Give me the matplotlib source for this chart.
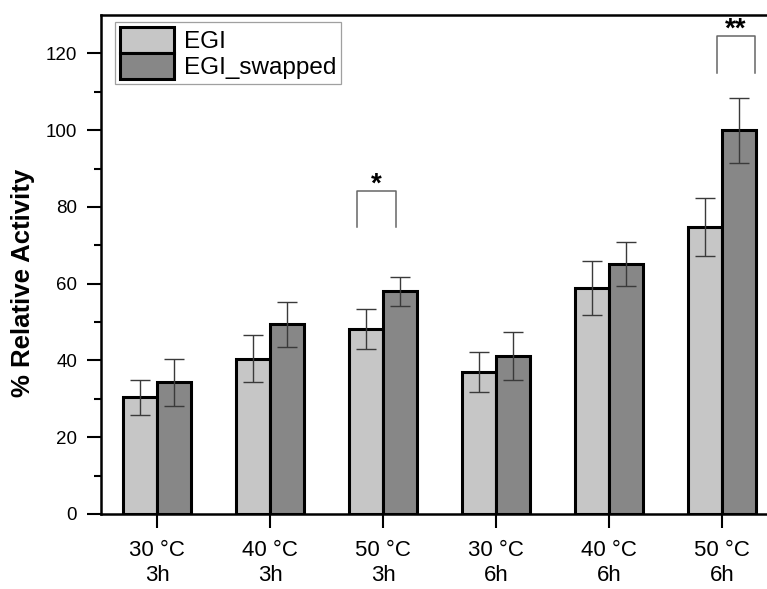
import matplotlib
matplotlib.use("Agg")
import matplotlib.pyplot as plt
import numpy as np

plt.rcParams['font.family'] = ['Liberation Sans', 'DejaVu Sans']

categories = ["30 \u00b0C\n3h", "40 \u00b0C\n3h", "50 \u00b0C\n3h",
              "30 \u00b0C\n6h", "40 \u00b0C\n6h", "50 \u00b0C\n6h"]
egi = [30.4, 40.5, 48.3, 37.0, 58.8, 74.8]
egi_err = [4.5, 6.2, 5.2, 5.2, 7.0, 7.6]
swapped = [34.3, 49.4, 58.0, 41.1, 65.2, 100.0]
swapped_err = [6.1, 5.9, 3.7, 6.2, 5.7, 8.5]
series_names = ["EGI", "EGI_swapped"]

# significance brackets: (group index, left offset, right offset, bottom, top, label)
sig_groups = [2, 5]
sig_left = [-0.23, -0.05]
sig_right = [0.115, 0.29]
sig_bottom = [74.7, 115.0]
sig_top = [84.1, 124.6]
sig_labels = ["*", "**"]

W, H = 767, 589
fig = plt.figure(figsize=(W / 100, H / 100), dpi=100)
ax = fig.add_axes([100.7 / W, 75 / H, 678 / W, 499 / H])

x = np.arange(len(categories))
bw = 0.30
light = '#c6c6c6'
dark = '#878787'
err_kw = dict(ecolor='#3a3a3a', elinewidth=1.0, capsize=7.5, capthick=1.0)
ax.bar(x - bw / 2, egi, bw, yerr=egi_err, color=light, edgecolor='black',
       linewidth=2.2, label=series_names[0], error_kw=err_kw, zorder=2)
ax.bar(x + bw / 2, swapped, bw, yerr=swapped_err, color=dark, edgecolor='black',
       linewidth=2.2, label=series_names[1], error_kw=err_kw, zorder=2)

for g, l, r, b, t, lab in zip(sig_groups, sig_left, sig_right, sig_bottom, sig_top, sig_labels):
    ax.plot([g + l, g + l, g + r, g + r], [b, t, t, b], color='#666666', lw=1.1,
            clip_on=False, zorder=3)
    ax.text(g + (l + r) / 2, t - 1.7, lab, ha='center', va='bottom',
            fontsize=20, fontweight='bold', clip_on=False)

ax.set_xlim(-0.5, 5.5)
ax.set_ylim(0, 130)
ax.set_yticks(np.arange(0, 121, 20))
ax.set_yticks(np.arange(10, 121, 20), minor=True)
ax.set_xticks(x)
ax.set_xticklabels(categories, fontsize=16, linespacing=1.2)
ax.tick_params(axis='y', which='major', length=10, width=1.5, labelsize=13.5, pad=7)
ax.tick_params(axis='y', which='minor', length=5, width=1.5)
ax.tick_params(axis='x', which='major', length=10, width=1.5, pad=9)
for s in ax.spines.values():
    s.set_linewidth(1.8)

ax.set_ylabel("% Relative Activity", fontsize=18.5, fontweight='bold')
ax.yaxis.set_label_coords(-0.097, 0.463)

leg = ax.legend(loc='upper left', bbox_to_anchor=(0.021, 0.986), borderaxespad=0,
                fontsize=17.5, frameon=True, fancybox=False, handlelength=2.25,
                handleheight=1.25, labelspacing=0.0, borderpad=0.2,
                handletextpad=0.4)
leg.get_frame().set_edgecolor('#888888')
leg.get_frame().set_linewidth(0.9)

fig.savefig("out.png", dpi=100)
